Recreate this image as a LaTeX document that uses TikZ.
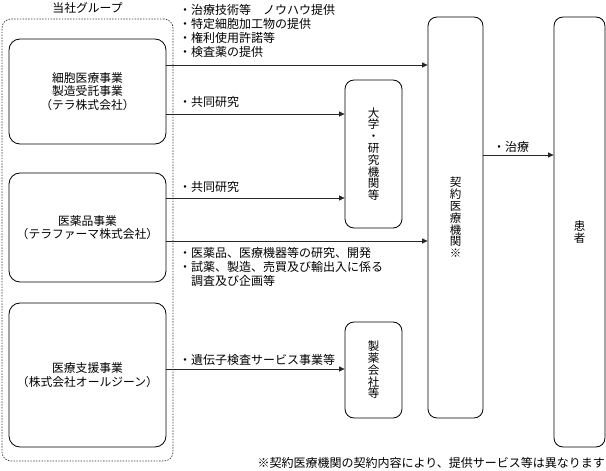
\documentclass[tikz,border=0pt]{standalone}
\usepackage{fontspec}
\setmainfont{Noto Sans CJK JP}
\usetikzlibrary{arrows.meta}

\begin{document}
\begin{tikzpicture}[x=1pt,y=-1pt,
  box/.style={draw=black,line width=0.8pt,rounded corners=11pt,inner sep=0pt,align=center,font=\fontsize{11.8}{13.5}\selectfont},
  tbox/.style={draw=black,line width=0.8pt,rounded corners=9pt,inner sep=0pt,align=center,font=\fontsize{11.5}{11.8}\selectfont},
  lbl/.style={anchor=north west,inner sep=0pt,align=left,font=\fontsize{12}{14}\selectfont},
  arr/.style={draw=black!85,line width=0.7pt,-{Triangle[length=5.5pt,width=5pt]}}]
\useasboundingbox (0,0) rectangle (606,471);

\node[draw=black!80,line width=0.7pt,dash pattern=on 1.4pt off 1.4pt,rounded corners=9pt,minimum width=171pt,minimum height=442pt] (grp) at (87.5,240) {};
\node[inner sep=0pt,font=\fontsize{11.8}{13}\selectfont] (grplbl) at (87.5,8) {当社グループ};

\node[box,minimum width=157pt,minimum height=105pt] (saibo) at (87.5,91.5) {細胞医療事業\\製造受託事業\\（テラ株式会社）};
\node[box,minimum width=157pt,minimum height=109pt] (iyaku) at (87.5,227.5) {医薬品事業\\（テラファーマ株式会社）};
\node[box,minimum width=157pt,minimum height=144pt] (shien) at (87.5,375) {医療支援事業\\（株式会社オールジーン）};

\node[tbox,minimum width=57pt,minimum height=148pt] (daigaku) at (373.5,154) {大\\学\\・\\研\\究\\機\\関\\等};
\node[tbox,minimum width=57pt,minimum height=96pt] (seiyaku) at (373.5,370) {製\\薬\\会\\社\\等};
\node[tbox,minimum width=55pt,minimum height=401pt] (keiyaku) at (455.5,217.5) {契\\約\\医\\療\\機\\関\\※};
\node[tbox,minimum width=51pt,minimum height=430pt] (kanja) at (579.5,232) {患\\者};

\coordinate (r1) at (0,65);
\coordinate (r2) at (0,114);
\coordinate (r3) at (0,198);
\coordinate (r4) at (0,241);
\coordinate (r5) at (0,369);
\coordinate (r6) at (0,155);

\draw[arr] (saibo.east |- r1) -- (keiyaku.west |- r1);
\draw[arr] (saibo.east |- r2) -- (daigaku.west |- r2);
\draw[arr] (iyaku.east |- r3) -- (daigaku.west |- r3);
\draw[arr] (iyaku.east |- r4) -- (keiyaku.west |- r4);
\draw[arr] (shien.east |- r5) -- (seiyaku.west |- r5);
\draw[arr] (keiyaku.east |- r6) -- (kanja.west |- r6);

\node[lbl] (t1) at (179,4) {・治療技術等　ノウハウ提供\\・特定細胞加工物の提供\\・権利使用許諾等\\・検査薬の提供};
\node[lbl] (t2) at (179,96) {・共同研究};
\node[lbl] (t3) at (179,181) {・共同研究};
\node[lbl] (t4) at (179,247) {・医薬品、医療機器等の研究、開発\\・試薬、製造、売買及び輸出入に係る\\　調査及び企画等};
\node[lbl] (t5) at (179,354) {・遺伝子検査サービス事業等};
\node[lbl] (t6) at (493,141) {・治療};
\node[anchor=east,inner sep=0pt,font=\fontsize{12}{13}\selectfont] (note) at (605,463) {※契約医療機関の契約内容により、提供サービス等は異なります};

\end{tikzpicture}
\end{document}
